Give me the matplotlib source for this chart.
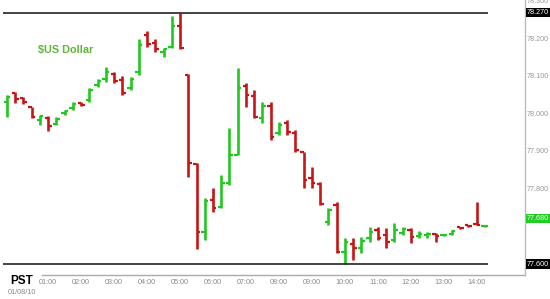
import numpy as np
import pandas as pd
import matplotlib
matplotlib.use('Agg')
import matplotlib.pyplot as plt

plt.rcParams['font.family'] = ['Liberation Sans', 'DejaVu Sans']

# 15-minute bars from 23:45 (01/07) to 14:15 (01/08/10)
opens = [78.032, 78.056, 78.043, 78.019, 77.984, 77.989, 77.973, 78.003, 78.016, 78.029,
         78.037, 78.077, 78.093, 78.107, 78.091, 78.069, 78.112, 78.211, 78.189, 78.165,
         78.179, 78.235, 78.104, 77.867, 77.685, 77.771, 77.752, 77.816, 77.891, 78.075,
         78.048, 77.989, 78.021, 77.949, 77.976, 77.949, 77.899, 77.829, 77.813, 77.712,
         77.757, 77.632, 77.653, 77.643, 77.669, 77.691, 77.677, 77.664, 77.683, 77.691,
         77.675, 77.677, 77.680, 77.677, 77.680, 77.699, 77.704, 77.707, 77.701]
highs = [78.051, 78.059, 78.045, 78.019, 77.997, 77.995, 77.992, 78.011, 78.032, 78.032,
         78.069, 78.093, 78.125, 78.112, 78.101, 78.099, 78.200, 78.221, 78.200, 78.176,
         78.261, 78.270, 78.107, 77.869, 77.776, 77.803, 77.837, 77.963, 78.123, 78.083,
         78.064, 78.032, 78.032, 77.979, 77.984, 77.957, 77.899, 77.859, 77.819, 77.749,
         77.765, 77.669, 77.669, 77.672, 77.699, 77.699, 77.696, 77.709, 77.699, 77.696,
         77.688, 77.685, 77.683, 77.680, 77.691, 77.699, 77.704, 77.765, 77.703]
lows = [77.992, 78.029, 78.027, 77.989, 77.971, 77.955, 77.971, 77.997, 78.011, 78.021,
        78.032, 78.072, 78.085, 78.083, 78.051, 78.064, 78.104, 78.179, 78.165, 78.152,
        78.176, 78.173, 77.832, 77.640, 77.664, 77.739, 77.749, 77.811, 77.891, 78.019,
        77.989, 77.976, 77.931, 77.944, 77.944, 77.899, 77.803, 77.803, 77.757, 77.704,
        77.629, 77.600, 77.611, 77.629, 77.659, 77.664, 77.643, 77.659, 77.677, 77.656,
        77.669, 77.669, 77.659, 77.675, 77.677, 77.693, 77.699, 77.704, 77.700]
closes = [78.045, 78.040, 78.032, 77.992, 77.995, 77.968, 77.987, 78.008, 78.027, 78.024,
          78.064, 78.088, 78.112, 78.088, 78.056, 78.093, 78.184, 78.187, 78.173, 78.173,
          78.235, 78.176, 77.869, 77.685, 77.768, 77.749, 77.816, 77.891, 78.069, 78.051,
          77.992, 78.021, 77.939, 77.971, 77.952, 77.904, 77.824, 77.816, 77.760, 77.744,
          77.632, 77.659, 77.643, 77.661, 77.685, 77.669, 77.659, 77.691, 77.693, 77.672,
          77.680, 77.680, 77.675, 77.678, 77.688, 77.696, 77.701, 77.704, 77.702]

session_high = 78.270
session_low = 77.600
last_price = 77.680
last_label_pos = 77.722
axis_prices = [78.300, 78.200, 78.100, 78.000, 77.900, 77.800]
hour_labels = ['01:00', '02:00', '03:00', '04:00', '05:00', '06:00', '07:00',
               '08:00', '09:00', '10:00', '11:00', '12:00', '13:00', '14:00']

times = pd.date_range('2010-01-07 23:45', periods=len(opens), freq='15min')
x = np.arange(len(opens))
up_color = '#1ec81e'
down_color = '#c81414'

fig = plt.figure(figsize=(5.5, 2.99), dpi=100)
ax = fig.add_axes([0, 24 / 299, 525 / 550, 275 / 299])

o = np.array(opens)
c = np.array(closes)
colors = np.where(c >= o, up_color, down_color)
ax.vlines(x, lows, highs, colors=colors, lw=1.9)
ax.hlines(opens, x - 0.42, x, colors=colors, lw=1.6)
ax.hlines(closes, x, x + 0.42, colors=colors, lw=1.6)

# session high / low lines
ax.hlines([session_high, session_low], -0.5, 58.4, colors='#222222', lw=1.2)

ax.set_xlim(-0.85, 62.86)
ax.set_ylim(77.5707, 78.304)

# x ticks on the hours
hour_idx = [i for i, t in enumerate(times) if t.minute == 0 and t.strftime('%H:%M') in hour_labels]
ax.set_xticks(hour_idx)
ax.set_xticklabels(hour_labels, fontsize=5.2, color='#888888')
ax.tick_params(axis='x', length=0, pad=3)
ax.set_yticks([])

for s in ['top', 'left', 'bottom']:
    ax.spines[s].set_visible(False)
ax.spines['right'].set_color('#bbbbbb')
ax.spines['right'].set_linewidth(1)
ax.plot([42 / 525, 1], [0, 0], transform=ax.transAxes, color='#aaaaaa', lw=1, clip_on=False)

ytr = ax.get_yaxis_transform()
for p in axis_prices:
    ax.text(1.004, p, f'{p:.3f}', transform=ytr, fontsize=5.2, color='#999999',
            va='center', ha='left', clip_on=False)
for p, lab, bg in [(session_high, session_high, 'black'), (session_low, session_low, 'black'),
                   (last_label_pos, last_price, '#22cc22')]:
    ax.text(1.004, p, f'{lab:.3f}', transform=ytr, fontsize=5.2, color='white',
            va='center', ha='left', clip_on=False,
            bbox=dict(boxstyle='square,pad=0.15', fc=bg, ec='none'))

fig.text(38 / 550, 1 - 50 / 299, '$US Dollar', fontsize=7.8, fontweight='bold',
         color='#5fb53a', va='center', ha='left')
fig.text(10 / 550, 1 - 281 / 299, 'PST', fontsize=8.5, fontweight='bold',
         color='black', va='center', ha='left')
fig.text(8 / 550, 1 - 293 / 299, '01/08/10', fontsize=5.2, color='#888888',
         va='center', ha='left')

fig.savefig('out.png', dpi=100)
